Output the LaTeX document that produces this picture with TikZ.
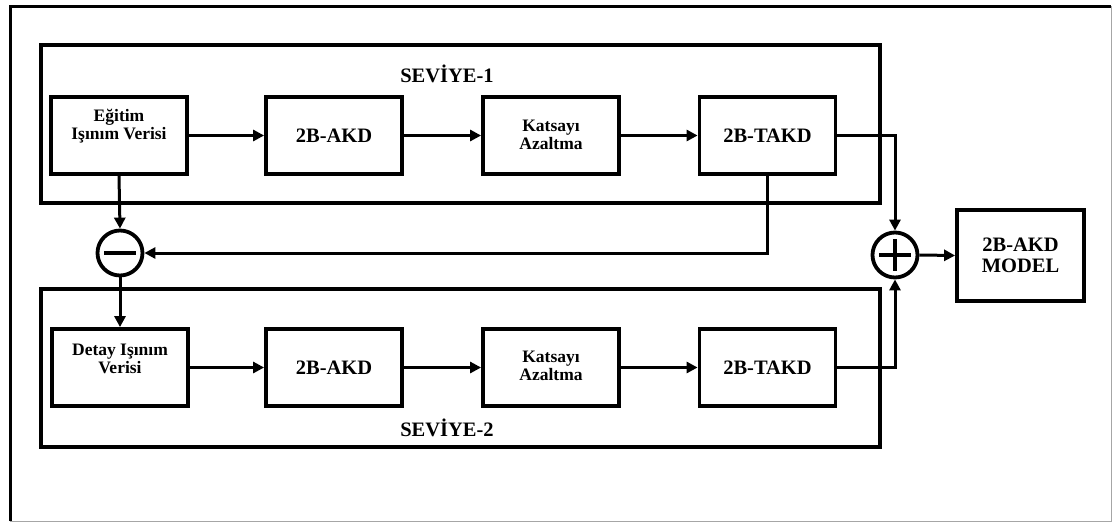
\documentclass[tikz,border=0pt]{standalone}
\usepackage{fontspec}
\setmainfont{Liberation Serif}
\usetikzlibrary{arrows.meta,calc}
\begin{document}
\begin{tikzpicture}[x=1pt,y=-1pt,
  blk/.style={draw,line width=3.8pt,rectangle,minimum width=136pt,minimum height=77pt,inner sep=0pt},
  big/.style={font=\fontsize{20.5}{20.5}\selectfont\bfseries,align=center},
  small/.style={font=\fontsize{17.5}{18}\selectfont\bfseries,align=center},
  lvl/.style={draw,line width=3.5pt},
  sumc/.style={draw,circle,line width=3.8pt,minimum size=45pt,inner sep=0pt},
  conn/.style={line width=3pt,-{Triangle[length=11pt,width=11pt]}}]
\useasboundingbox (0,0) rectangle (1112,522);
% outer frame
\draw[line width=3pt] (10,521) -- (10,6) -- (1111,6);
\draw[line width=1pt,gray!70] (1111,6) -- (1111,521) -- (10,521);
% level boxes
\draw[lvl] (41,45) rectangle (880,203);
\draw[lvl] (41,289) rectangle (880,447);
\node[big] (lv1) at (447,74) {SEVİYE-1};
\node[big] (lv2) at (447,428) {SEVİYE-2};
% upper row
\node[blk] (e1) at (119,135.5) {};
\node[small] (e1t) at (119,126) {Eğitim\\Işınım Verisi};
\node[blk] (a1) at (334,135.5) {};
\node[big] (a1t) at (a1) {2B-AKD};
\node[blk] (k1) at (551,135.5) {};
\node[small] (k1t) at (551,135) {Katsayı\\Azaltma};
\node[blk] (t1) at (767.5,135.5) {};
\node[big] (t1t) at (t1) {2B-TAKD};
% lower row
\node[blk] (d2) at (120,367.5) {};
\node[small] (d2t) at (120,359) {Detay Işınım\\Verisi};
\node[blk] (a2) at (334,367.5) {};
\node[big] (a2t) at (a2) {2B-AKD};
\node[blk] (k2) at (551,367.5) {};
\node[small] (k2t) at (551,366) {Katsayı\\Azaltma};
\node[blk] (t2) at (767.5,367.5) {};
\node[big] (t2t) at (t2) {2B-TAKD};
% sum circles
\node[sumc] (minus) at (120,253) {};
\draw[line width=4pt] ($(minus)+(-16,0)$) -- ($(minus)+(16,0)$);
\node[sumc] (plus) at (895,255) {};
\draw[line width=4pt] ($(plus)+(-16,0)$) -- ($(plus)+(16,0)$);
\draw[line width=4pt] ($(plus)+(0,-16)$) -- ($(plus)+(0,16)$);
% model
\node[draw,line width=3.8pt,minimum width=127pt,minimum height=91pt,inner sep=0pt] (m) at (1020.5,255.5) {};
\node[big] (mt) at (m) {2B-AKD\\MODEL};
% connectors
\draw[conn] (e1.east) -- (a1.west);
\draw[conn] (a1.east) -- (k1.west);
\draw[conn] (k1.east) -- (t1.west);
\draw[conn] (d2.east) -- (a2.west);
\draw[conn] (a2.east) -- (k2.west);
\draw[conn] (k2.east) -- (t2.west);
\draw[conn] (e1.south) -- (minus.north);
\draw[conn] (minus.south) -- (d2.north);
\draw[conn] (t1.south) |- (minus.east);
\draw[conn] (t1.east) -| (plus.north);
\draw[conn] (t2.east) -| (plus.south);
\draw[conn] (plus.east) -- (m.west);
\end{tikzpicture}
\end{document}
